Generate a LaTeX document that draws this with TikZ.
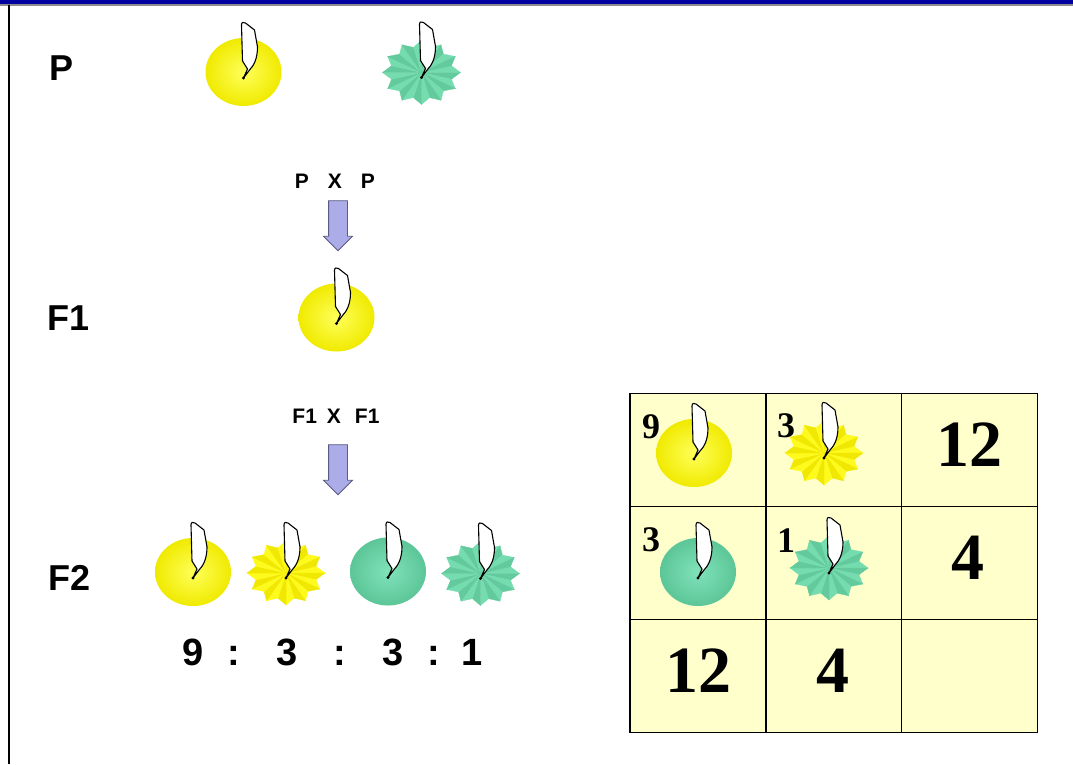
\documentclass[tikz,border=0pt]{standalone}
\usepackage{fontspec}
\setmainfont{Liberation Sans}
\newfontfamily\serifnum{Liberation Serif}
\usetikzlibrary{shapes.arrows}

\definecolor{topblue}{RGB}{0,0,160}
\definecolor{cellyellow}{RGB}{255,255,204}
\definecolor{arrowfill}{RGB}{172,172,232}
\definecolor{arrowline}{RGB}{90,90,130}
\definecolor{ylight}{RGB}{255,250,30}
\definecolor{ydark}{RGB}{240,232,0}
\definecolor{yinner}{RGB}{255,255,90}
\definecolor{youter}{RGB}{240,234,0}
\definecolor{glight}{RGB}{116,220,174}
\definecolor{gdark}{RGB}{98,202,156}
\definecolor{ginner}{RGB}{128,226,185}
\definecolor{gouter}{RGB}{92,198,152}

\tikzset{
  flagline/.style={draw=black, fill=white, line width=1.1pt, line join=round},
  genlabel/.style={font=\fontsize{36}{40}\selectfont\bfseries, inner sep=0pt},
  crosslabel/.style={font=\fontsize{21}{24}\selectfont\bfseries, inner sep=0pt},
  ratiolabel/.style={font=\fontsize{38}{42}\selectfont\bfseries, inner sep=0pt, anchor=base},
  bignum/.style={font=\fontsize{66}{70}\selectfont\serifnum\bfseries, inner sep=0pt},
  smallnum/.style={font=\fontsize{36}{40}\selectfont\serifnum\bfseries, inner sep=0pt},
  cell/.style={draw=black, fill=cellyellow, line width=1.3pt, minimum width=136pt,
    minimum height=113.3pt, inner sep=0pt},
  blockarrow/.style={single arrow, fill=arrowfill, draw=arrowline, line width=0.8pt,
    inner xsep=0pt, inner ysep=9pt, minimum width=28pt, minimum height=50pt,
    single arrow head extend=5pt},
}

% white pennant standing in a pea, tip at (#1,#2)
\newcommand\peaflag[2]{%
  \begin{scope}[shift={(#1,#2)}]
    \draw[flagline] (0,0) -- (4,-9) -- (-1,-17) -- (-2,-53)
      .. controls (-2,-56) and (0,-56) .. (2,-55) -- (11,-48) -- (14,-31)
      .. controls (14,-19) and (10,-12) .. (6,-8) -- cycle;
    \fill (0,0) circle (1.7);
  \end{scope}}

% smooth (round) pea: centre x, centre y, inner colour, outer colour
\newcommand\roundpea[4]{%
  \shade[inner color=#3, outer color=#4] (#1,#2) ellipse [x radius=38, y radius=34];
  \peaflag{#1}{#2+6}}

% wrinkled pea: centre x, centre y, light facet colour, dark facet colour
\newcommand\wrinkledpea[4]{%
  \begin{scope}[shift={(#1,#2)}]
    \foreach \k in {0,...,11}{
      \pgfmathsetmacro\ang{\k*30}
      \filldraw[#3, line width=0.3pt] (0,0) -- (\ang-15:31 and 26) -- (\ang:39 and 32) -- cycle;
      \filldraw[#4, line width=0.3pt] (0,0) -- (\ang:39 and 32) -- (\ang+15:31 and 26) -- cycle;
    }
  \end{scope}
  \peaflag{#1}{#2+5}}

\begin{document}
\begin{tikzpicture}[x=1pt, y=-1pt]
  \useasboundingbox (0,0) rectangle (1073,764);
  \fill[white] (0,0) rectangle (1073,764);

  % frame: blue band on top, black rule on the left
  \fill[topblue] (0,0) rectangle (1073,4);
  \fill[black!45] (0,4) rectangle (1073,5.5);
  \draw[line width=2pt] (8.5,5) -- (8.5,764);

  % generation labels
  \node[genlabel] (lp)  at (62,68)  {P};
  \node[genlabel] (lf1) at (69,318) {F1};
  \node[genlabel] (lf2) at (70,578) {F2};

  % parents
  \roundpea{243.5}{72}{yinner}{youter}
  \wrinkledpea{421.5}{72.5}{glight}{gdark}

  % cross P x P
  \node[crosslabel] (cross1) at (335,181) {P\hspace{19pt}X\hspace{19pt}P};
  \node[blockarrow, rotate=-90] (arr1) at (338,221) {};

  % F1
  \roundpea{336.5}{317.5}{yinner}{youter}

  % cross F1 x F1
  \node[crosslabel] (cross2) at (336,416) {F1\hspace{10pt}X\hspace{14pt}F1};
  \node[blockarrow, rotate=-90] (arr2) at (338,465) {};

  % F2 phenotypes
  \roundpea{193}{572}{yinner}{youter}
  \wrinkledpea{286}{573}{ylight}{ydark}
  \roundpea{388}{571.5}{ginner}{gouter}
  \wrinkledpea{480.5}{573.5}{glight}{gdark}

  % ratio 9 : 3 : 3 : 1
  \node[ratiolabel] (r1) at (193,665) {9};
  \node[ratiolabel] (r2) at (234,665) {:};
  \node[ratiolabel] (r3) at (287,665) {3};
  \node[ratiolabel] (r4) at (340,665) {:};
  \node[ratiolabel] (r5) at (393,665) {3};
  \node[ratiolabel] (r6) at (434,665) {:};
  \node[ratiolabel] (r7) at (472,665) {1};

  % summary table
  \node[cell] (c11) at (698,450)   {};
  \node[cell] (c12) at (834,450)   {};
  \node[cell] (c13) at (969.5,450) {};
  \node[cell] (c21) at (698,563)   {};
  \node[cell] (c22) at (834,563)   {};
  \node[cell] (c23) at (969.5,563) {};
  \node[cell] (c31) at (698,676)   {};
  \node[cell] (c32) at (834,676)   {};
  \node[cell] (c33) at (969.5,676) {};

  \roundpea{694}{453}{yinner}{youter}
  \wrinkledpea{824}{453}{ylight}{ydark}
  \roundpea{698}{572}{ginner}{gouter}
  \wrinkledpea{829}{568}{glight}{gdark}

  \node[smallnum] (n9)  at (651,427)   {9};
  \node[smallnum] (n3a) at (786,426)   {3};
  \node[smallnum] (n3b) at (651,540)   {3};
  \node[smallnum] (n1)  at (786,541)   {1};

  \node[bignum] (t12a) at (969.5,445) {12};
  \node[bignum] (t4a)  at (968,557.5) {4};
  \node[bignum] (t12b) at (698.5,671) {12};
  \node[bignum] (t4b)  at (833,671)   {4};
\end{tikzpicture}
\end{document}
